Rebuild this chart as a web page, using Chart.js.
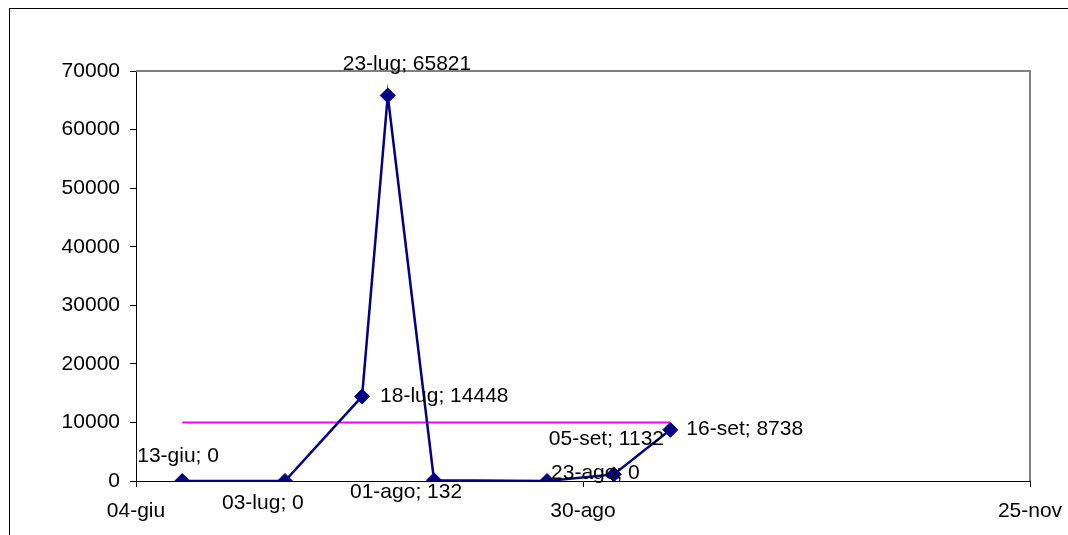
<!DOCTYPE html>
<html><head><meta charset="utf-8">
<script src="https://cdn.jsdelivr.net/npm/chart.js@4.4.1/dist/chart.umd.min.js"></script>
<style>html,body{margin:0;padding:0;background:#fff;overflow:hidden}#wrap{width:1068px;height:535px;position:relative}</style>
</head><body><div id="wrap"><canvas id="c"></canvas></div>
<script>
// ---- data ----
const categories = ['13-giu','03-lug','18-lug','23-lug','01-ago','23-ago','05-set','16-set'];
const values = [0, 0, 14448, 65821, 132, 0, 1132, 8738];
const thresholdValue = 10000;
const xTickLabels = ['04-giu','30-ago','25-nov'];
const yTicks = [0,10000,20000,30000,40000,50000,60000,70000];

// ---- styling (label placement offsets relative to each point) ----
const labelOffsets = [[-45,-25],[-63,22],[18,0],[-45,-31],[-84,12],[4,-8],[-65,-35],[16,-1]];

const months = {gen:0,feb:1,mar:2,apr:3,mag:4,giu:5,lug:6,ago:7,set:8,ott:9,nov:10,dic:11};
function dayOf(lbl){ const p = lbl.split('-'); return Date.UTC(2001, months[p[1]], +p[0]) / 86400000; }

const mainPoints = categories.map((c,i)=>({x: dayOf(c), y: values[i]}));
const threshPoints = [{x: dayOf(categories[0]), y: thresholdValue}, {x: dayOf(categories[categories.length-1]), y: thresholdValue}];

const FONT = {family: '"Liberation Sans", Arial, sans-serif', size: 21};

const framePlugin = {
  id: 'frame',
  beforeDraw(chart){
    const ctx = chart.ctx;
    ctx.save();
    ctx.fillStyle = '#fff';
    ctx.fillRect(0,0,chart.width,chart.height);
    ctx.strokeStyle = '#000';
    ctx.lineWidth = 1;
    ctx.strokeRect(9.5, 8.5, 3000, 3000);
    ctx.restore();
  },
  beforeDatasetsDraw(chart){
    const a = chart.chartArea, ctx = chart.ctx;
    ctx.save();
    ctx.strokeStyle = '#808080';
    ctx.lineWidth = 2;
    ctx.beginPath();
    ctx.moveTo(a.left, a.top);
    ctx.lineTo(a.right, a.top);
    ctx.lineTo(a.right, a.bottom);
    ctx.stroke();
    ctx.restore();
  }
};

const labelPlugin = {
  id: 'pointLabels',
  afterDatasetsDraw(chart){
    const meta = chart.getDatasetMeta(0);
    const ctx = chart.ctx;
    ctx.save();
    ctx.font = FONT.size + 'px ' + FONT.family;
    ctx.fillStyle = '#000';
    ctx.textAlign = 'left';
    ctx.textBaseline = 'middle';
    meta.data.forEach((pt, i) => {
      const off = labelOffsets[i];
      ctx.fillText(categories[i] + '; ' + values[i], pt.x + off[0], pt.y + off[1]);
    });
    ctx.restore();
  }
};

new Chart(document.getElementById('c'), {
  type: 'line',
  data: {
    datasets: [
      {
        data: mainPoints,
        borderColor: '#000080',
        backgroundColor: '#000080',
        borderWidth: 2.5,
        pointStyle: 'rectRot',
        pointRadius: 7.5,
        pointBorderWidth: 1,
        pointBackgroundColor: '#000080',
        pointBorderColor: '#000080',
        tension: 0
      },
      {
        data: threshPoints,
        borderColor: '#FF00FF',
        borderWidth: 2,
        pointRadius: 0,
        tension: 0
      }
    ]
  },
  options: {
    responsive: true,
    maintainAspectRatio: false,
    animation: false,
    events: [],
    layout: {padding: {left: 0, top: 71, right: 38, bottom: 0}},
    plugins: {legend: {display: false}, tooltip: {enabled: false}},
    scales: {
      x: {
        type: 'linear',
        min: dayOf(xTickLabels[0]),
        max: dayOf(xTickLabels[xTickLabels.length-1]),
        afterBuildTicks(s){ s.ticks = xTickLabels.map(l => ({value: dayOf(l)})); },
        afterFit(s){ s.height = 54; s.paddingRight = 0; s.paddingLeft = 0; },
        ticks: {
          font: FONT, color: '#000', padding: 12, maxRotation: 0, autoSkip: false,
          callback(v){ const l = xTickLabels.find(t => dayOf(t) === v); return l || ''; }
        },
        grid: {drawOnChartArea: false, drawTicks: true, tickLength: 6, color: '#000'},
        border: {display: true, color: '#000', width: 1}
      },
      y: {
        min: 0, max: 70000,
        afterBuildTicks(s){ s.ticks = yTicks.map(v => ({value: v})); },
        afterFit(s){ s.width = 136; },
        ticks: {font: FONT, color: '#000', padding: 10, callback: v => String(v)},
        grid: {drawOnChartArea: false, drawTicks: true, tickLength: 6, color: '#000'},
        border: {display: true, color: '#000', width: 1}
      }
    }
  },
  plugins: [framePlugin, labelPlugin]
});
</script>
</body></html>
